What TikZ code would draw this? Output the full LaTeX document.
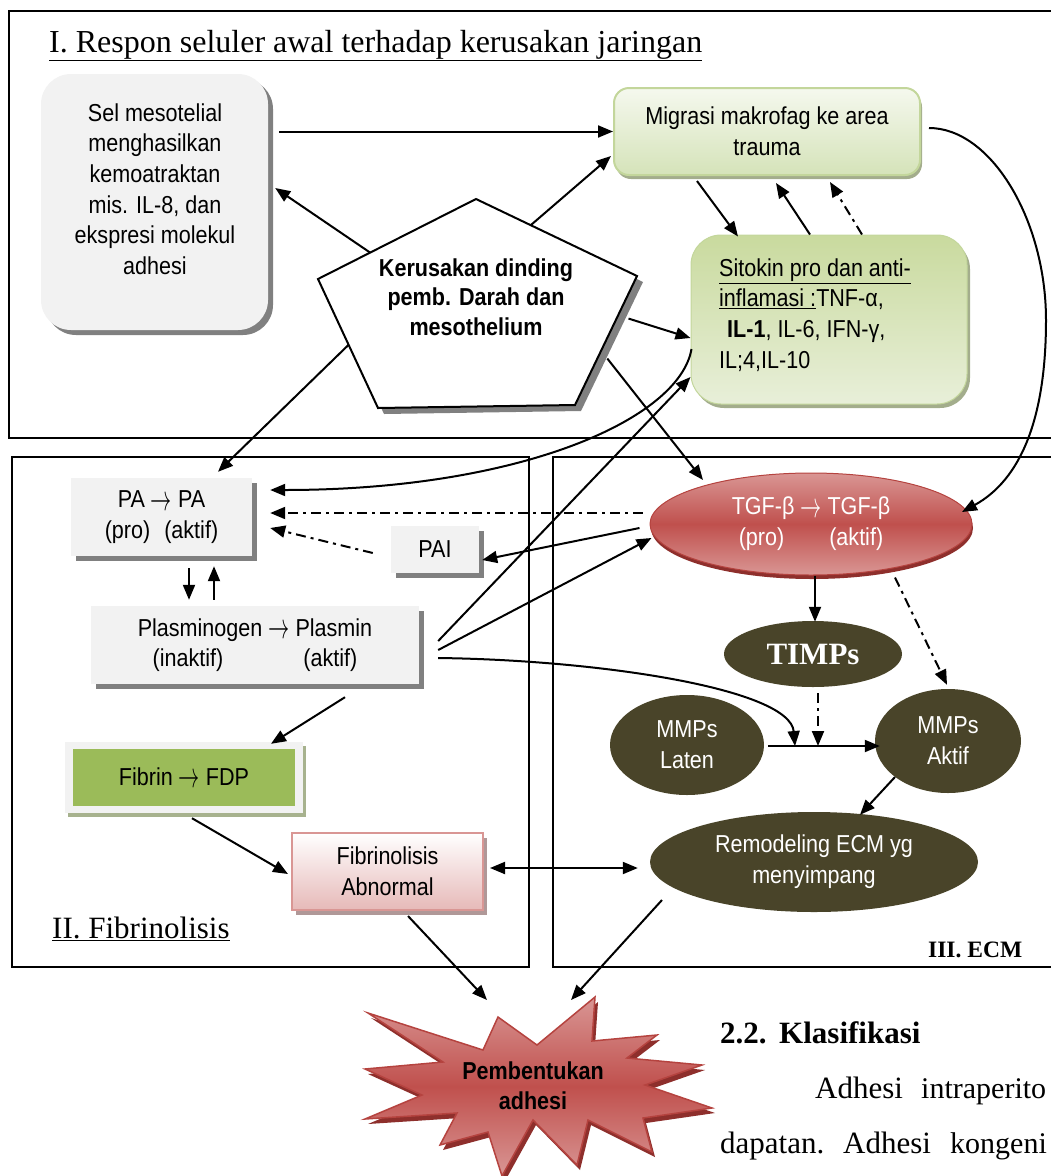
\documentclass[tikz,border=0pt]{standalone}
\usepackage{fontspec}
\usepackage{graphicx}
\setmainfont{Liberation Serif}
\setsansfont{Liberation Sans}[FakeStretch=0.88]
\newcommand\arr{\raisebox{-2.5pt}{\scalebox{0.85}[1.45]{$\rightarrow$}}}
\usetikzlibrary{arrows.meta,shapes.geometric,shadows,calc}
\definecolor{boxgray}{HTML}{F2F2F2}
\definecolor{shgray}{HTML}{808080}
\definecolor{grnlight}{HTML}{EBF1DE}
\definecolor{grntop}{HTML}{F5F8EE}
\definecolor{grnmid}{HTML}{D5E3B9}
\definecolor{grnbord}{HTML}{C3D69B}
\definecolor{grnshadow}{HTML}{A3AD8C}
\definecolor{sittop}{HTML}{C9DA9E}
\definecolor{sitbot}{HTML}{E8EFD9}
\definecolor{fibgreen}{HTML}{9BBB59}
\definecolor{fibshadow}{HTML}{A7B28E}
\definecolor{tgfred}{HTML}{C0504D}
\definecolor{tgflight}{HTML}{D99694}
\definecolor{tgfdark}{HTML}{8E2F2C}
\definecolor{tgfbord}{HTML}{B5433F}
\definecolor{olive}{HTML}{494429}
\definecolor{pinkbord}{HTML}{D99694}
\definecolor{pinkfill}{HTML}{E6B9B8}
\definecolor{pinkshadow}{HTML}{B09898}
\begin{document}
\begin{tikzpicture}[x=1pt,y=-1pt,
  every node/.style={font=\sffamily\fontsize{24.5}{30.7}\selectfont, inner sep=0pt, align=center},
  conn/.style={line width=2pt, -{Triangle[length=15pt,width=12pt]}},
  dd/.style={dash pattern=on 10pt off 5pt on 3pt off 5pt},
  frame/.style={draw, line width=2.5pt},
  graybox/.style={rectangle, fill=boxgray, drop shadow={shadow xshift=5pt, shadow yshift=-5pt, fill=shgray, opacity=1}},
  olivenode/.style={ellipse, fill=olive, text=white},
  serifhead/.style={font=\rmfamily\fontsize{32}{32}\selectfont, anchor=base west},
  bodytext/.style={font=\rmfamily\fontsize{31}{31}\selectfont, anchor=base west}
]
\useasboundingbox (0,0) rectangle (1051,1176);

% frames
\draw[frame] (9,11) rectangle (1062,438);
\draw[frame] (12,457) rectangle (529,967);
\draw[frame] (553,457) rectangle (1062,967);

\node[serifhead] (t1) at (49,52) {\underline{I. Respon seluler awal terhadap kerusakan jaringan}};
\node[font=\rmfamily\fontsize{31}{31}\selectfont, anchor=base west] (t2) at (52,938) {\underline{II. Fibrinolisis}};
\node[font=\rmfamily\bfseries\fontsize{23.5}{23.5}\selectfont, anchor=base west] (t3) at (928,957) {III. ECM};

% section I
\node[graybox, rounded corners=30, minimum width=227, minimum height=256] (sel) at (154.5,202) {};
\node (selt) at (155,189) {Sel mesotelial\\menghasilkan\\kemoatraktan\\mis. IL-8, dan\\ekspresi molekul\\adhesi};

\node[rectangle, rounded corners=15, draw=grnbord, line width=2pt, top color=grntop, bottom color=grnmid,
  minimum width=306, minimum height=87,
  drop shadow={shadow xshift=2pt, shadow yshift=-4pt, fill=grnshadow, opacity=1}] (mig) at (767,131.5) {Migrasi makrofag ke area\\trauma};

\node[rectangle, rounded corners=30, draw=grnbord, line width=1pt, top color=sittop, bottom color=sitbot,
  minimum width=276, minimum height=169,
  drop shadow={shadow xshift=3pt, shadow yshift=-4pt, fill=grnshadow, opacity=1}] (sit) at (829,319.5) {};
\node[anchor=west, align=left] (sitt) at (719,315) {\underline{Sitokin pro dan anti-}\\\underline{inflamasi :}TNF-α,\\\hspace*{8pt}\textbf{IL-1}, IL-6, IFN-γ,\\IL;4,IL-10};

\coordinate (pt) at (476,199);
\coordinate (pr) at (637,276);
\coordinate (pbr) at (575,405);
\coordinate (pbl) at (378,408);
\coordinate (pl) at (318,279);
\fill[shgray] (482,205) -- (643,282) -- (581,411) -- (384,414) -- (324,285) -- cycle;
\draw[line width=2pt, fill=white, line join=miter] (pt) -- (pr) -- (pbr) -- (pbl) -- (pl) -- cycle;
\node[font=\sffamily\bfseries\fontsize{24.5}{29.5}\selectfont] (pent) at (476,297) {Kerusakan dinding\\pemb. Darah dan\\mesothelium};

% section II
\node[graybox, minimum width=181, minimum height=78] (pa) at (161.5,517) {PA \arr{} PA\\(pro)\hspace{14pt}(aktif)};
\node[graybox, minimum width=88, minimum height=47] (pai) at (435,549.5) {PAI};
\node[graybox, minimum width=328, minimum height=78] (plasm) at (255,645) {Plasminogen \arr{} Plasmin\\(inaktif)\hspace{80pt}(aktif)};
\node[rectangle, fill=boxgray, minimum width=238, minimum height=71,
  drop shadow={shadow xshift=3pt, shadow yshift=-4pt, fill=fibshadow, opacity=1}] (fibo) at (184,777.5) {};
\node[rectangle, fill=fibgreen, minimum width=222, minimum height=57] (fib) at (184,777.5) {Fibrin \arr{} FDP};
\node[rectangle, draw=pinkbord, line width=2pt, top color=white, bottom color=pinkfill,
  minimum width=191, minimum height=77,
  drop shadow={shadow xshift=4pt, shadow yshift=-5pt, fill=pinkshadow, opacity=1}] (fl) at (387.5,871.5) {Fibrinolisis\\Abnormal};

% section III
\node[ellipse, minimum width=322, minimum height=102, top color=tgflight, bottom color=tgflight, middle color=tgfred,
  draw=tgfbord, line width=1pt, text=white,
  drop shadow={shadow xshift=1pt, shadow yshift=-4pt, fill=tgfdark, opacity=1}] (tgf) at (811,524) {TGF-β \arr{} TGF-β\\(pro)\hspace{45pt}(aktif)};
\node[olivenode, minimum width=178, minimum height=66, font=\rmfamily\bfseries\fontsize{31}{31}\selectfont] (timps) at (813,654) {TIMPs};
\node[olivenode, minimum width=154, minimum height=100] (laten) at (687,745) {MMPs\\Laten};
\node[olivenode, minimum width=146, minimum height=104] (aktif) at (948,741) {MMPs\\Aktif};
\node[olivenode, minimum width=328, minimum height=100] (rem) at (814,862) {Remodeling ECM yg\\menyimpang};
\coordinate (j1) at (795,746);
\coordinate (j2) at (818,746);

% star
\fill[tgfdark] (371,1018) -- (486,1055) -- (501,1022) -- (540,1050) -- (598,1002) -- (595,1046) -- (660,1040) -- (630,1063) -- (705,1070) -- (648,1090) -- (715,1113) -- (646,1123) -- (655,1157) -- (591,1125) -- (580,1170) -- (536,1125) -- (505,1181) -- (491,1137) -- (443,1150) -- (460,1118) -- (368,1124) -- (425,1100) -- (368,1074) -- (446,1067) -- cycle;
\shade[top color=tgflight, bottom color=tgflight, middle color=tgfred, draw=tgfbord, line width=1.5pt, line join=miter]
  (368,1013) -- (483,1050) -- (498,1017) -- (537,1045) -- (595,997) -- (592,1041) -- (657,1035) -- (627,1058) -- (702,1065) -- (645,1085) -- (712,1108) -- (643,1118) -- (652,1152) -- (588,1120) -- (577,1165) -- (533,1120) -- (502,1176) -- (488,1132) -- (440,1145) -- (457,1113) -- (365,1119) -- (422,1095) -- (365,1069) -- (443,1062) -- cycle;
\node[font=\sffamily\bfseries\fontsize{24.5}{30}\selectfont] (star) at (533,1086) {Pembentukan\\adhesi};

% body text
\node[font=\rmfamily\bfseries\fontsize{31}{31}\selectfont, anchor=base west] (s22) at (720,1043) {2.2.};
\node[font=\rmfamily\bfseries\fontsize{31}{31}\selectfont, anchor=base west] (skl) at (779,1043) {Klasifikasi};
\node[bodytext] (b1) at (815,1098) {Adhesi};
\node[bodytext, font=\rmfamily\fontsize{30}{30}\selectfont] (b2) at (921,1098) {intraperito};
\node[bodytext] (b3) at (720,1153) {dapatan.};
\node[bodytext] (b4) at (843,1153) {Adhesi};
\node[bodytext, font=\rmfamily\fontsize{30}{30}\selectfont] (b5) at (950,1153) {kongeni};

% connectors section I
\draw[conn] ($(sel.east |- mig.west)+(11,0)$) -- (mig.west);
\draw[conn] ($(pl)!0.33!(pt)$) -- ($(sel.east)+(7,-14)$);
\draw[conn] ($(pt)!0.34!(pr)$) -- ($(mig.west)+(-2,24.5)$);
\draw[conn] ($(pr)!0.33!(pbr)+(12,0)$) -- ($(sit.west)+(0,18.5)$);
\draw[conn] ($(mig.south)+(-70,5)$) -- ($(sit.north)+(-91,2)$);
\draw[conn] ($(sit.north)+(-19,0)$) -- ($(mig.south)+(9,7)$);
\draw[conn,dd] ($(sit.north)+(33,0)$) -- ($(mig.south)+(63,6)$);
\draw[conn] ($(mig.east)+(8,-3.5)$) .. controls +(62,0) and +(0,-100) .. (1046,320) .. controls +(0,100) and +(58,-32) .. ($(tgf.center)+(151,-12)$);
\draw[conn] ($(sit.west)+(1,29.5)$) .. controls +(-12,70) and +(250,0) .. ($(pa.east)+(18,-27)$);
\draw[conn] ($(pl)!0.51!(pbl)$) -- ($(pa.north)+(56.5,-6)$);
\draw[conn] ($(pr)!0.64!(pbr)+(10,0)$) -- ($(tgf.center)+(-108,-44)$);

% connectors section II
\draw[conn,dd] ($(tgf.west)+(-7,-11)$) -- ($(pa.east)+(18,-4)$);
\draw[conn,dd] ($(pai.west)+(-18,3.5)$) -- ($(pa.east)+(18,11)$);
\draw[conn] ($(tgf.west)+(-10,4)$) -- ($(pai.east)+(3,10.5)$);
\draw[conn] ($(pa.south)+(27.5,12)$) -- ($(plasm.north)+(-66,-6)$);
\draw[conn] ($(plasm.north)+(-41,-6)$) -- ($(pa.south)+(52.5,10)$);
\draw[conn] ($(plasm.east)+(19,-4)$) -- ($(sit.west)+(0,57.5)$);
\draw[conn] ($(plasm.east)+(19,5)$) -- ($(tgf.west)+(2,14)$);
\draw[conn] ($(plasm.east)+(19,13)$) .. controls +(162,2) and +(-5,-57) .. (j1);
\draw[conn] ($(plasm.south)+(90,13)$) -- ($(fibo.north)+(87,2)$);
\draw[conn] ($(fibo.south)+(8,5)$) -- ($(fl.west)+(-3,2.5)$);
\draw[line width=2pt, {Triangle[length=15pt,width=12pt]}-{Triangle[length=15pt,width=12pt]}] ($(fl.east)+(6,-3.5)$) -- ($(rem.west)+(-12,6)$);
\draw[conn] ($(fl.south)+(20.5,5)$) -- ($(star)+(-46,-86)$);
\draw[conn] ($(rem.center)+(-152,38)$) -- ($(star)+(38,-86)$);

% connectors section III
\draw[conn] ($(tgf.south)+(4,0)$) -- ($(timps.north)+(2,1)$);
\draw[conn,dd] ($(tgf.south)+(84,2)$) -- ($(aktif.north)+(-1,-4)$);
\draw[conn,dd] ($(timps.south)+(5,6)$) -- (j2);
\draw[conn] ($(laten.east)+(4,1)$) -- ($(aktif.west)+(5,5)$);
\draw[conn] ($(aktif.center)+(-53,36)$) -- ($(rem.north)+(46,3)$);
\end{tikzpicture}
\end{document}
